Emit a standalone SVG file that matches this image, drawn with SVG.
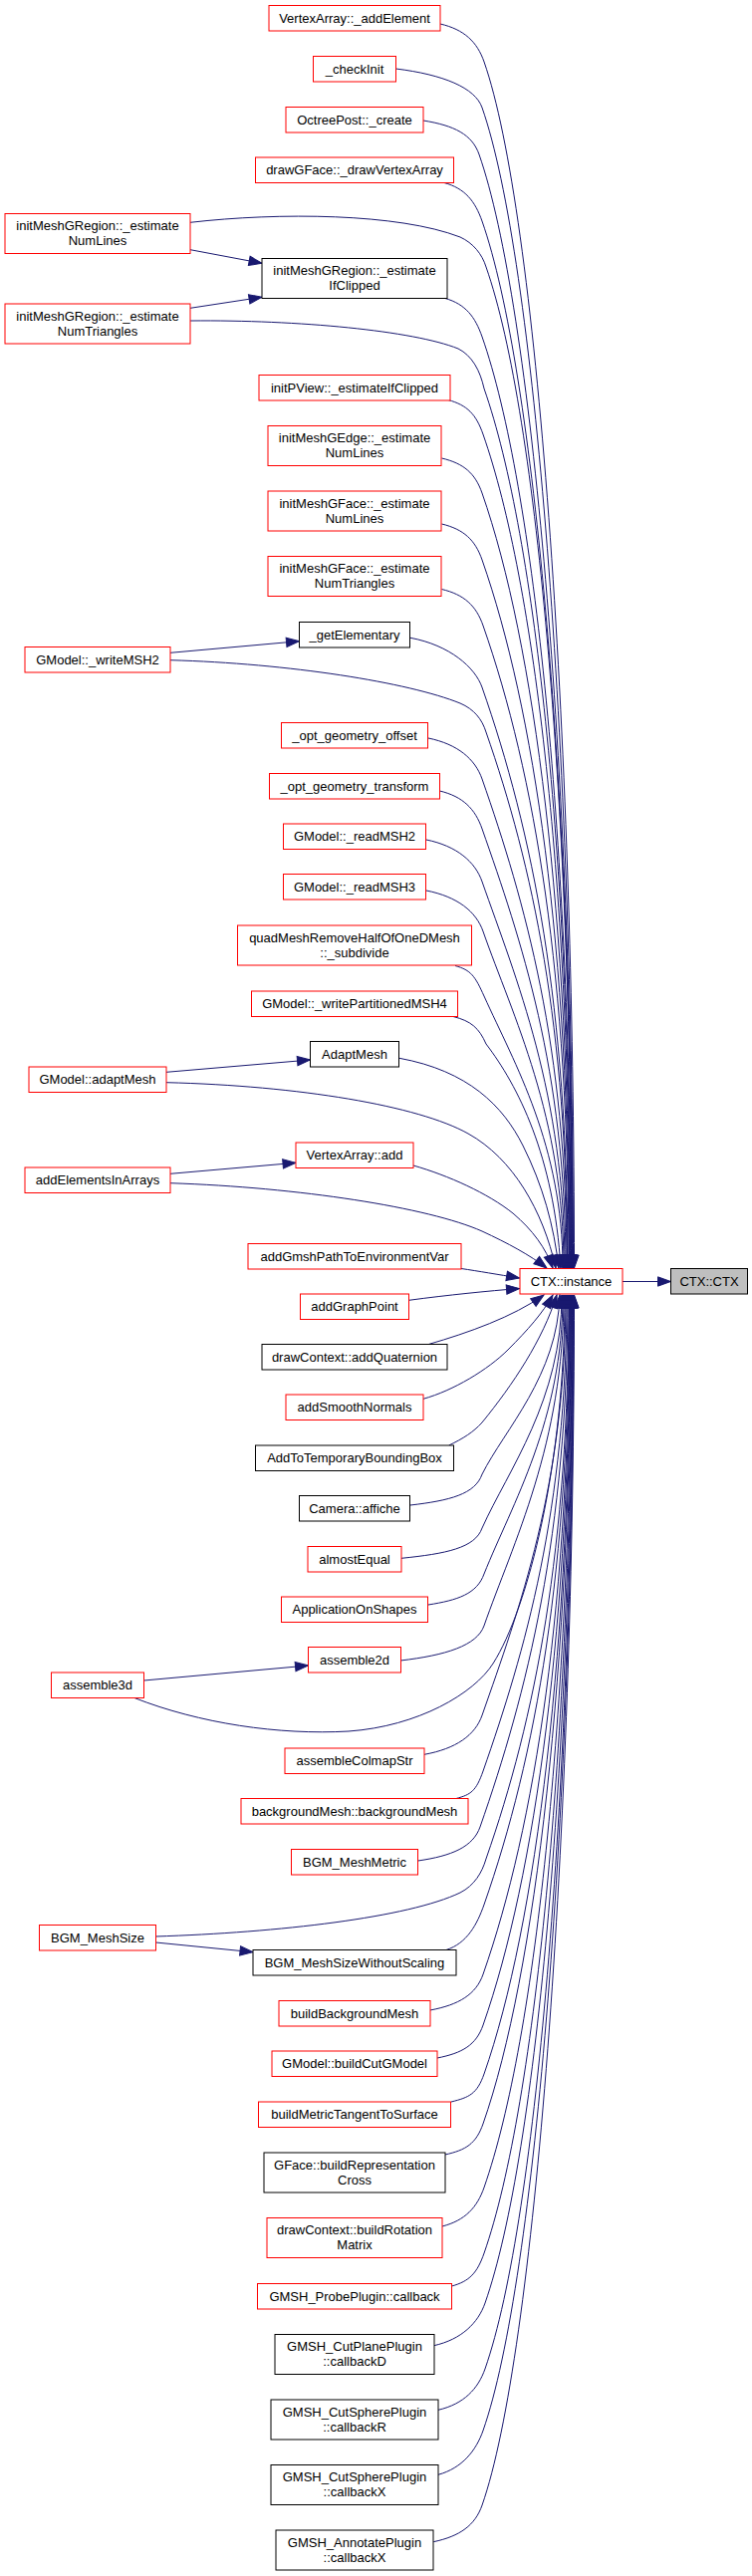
<svg xmlns="http://www.w3.org/2000/svg" width="755" height="2586" viewBox="0 0 755 2586">
<style>
.node rect{fill:#ffffff;stroke-width:1}
.red rect{stroke:#ff0000}
.blk rect{stroke:#000000}
.cur rect{fill:#bfbfbf;stroke:#000000}
text{font-family:"Liberation Sans",Arial,Helvetica,sans-serif;font-size:13px;text-anchor:middle;fill:#000000}
.edges path{fill:none;stroke:#191970;stroke-width:1;marker-end:url(#ah)}
</style>
<defs>
<marker id="ah" markerUnits="userSpaceOnUse" markerWidth="14" markerHeight="10" refX="13" refY="4.67" orient="auto" overflow="visible">
<path d="M0,0 L13,4.67 L0,9.33 z" fill="#191970" stroke="#191970" stroke-width="1"/>
</marker>
</defs>
<rect x="0" y="0" width="755" height="2586" fill="#ffffff"/>
<g id="edges" class="edges">
<path d="M442,24 C466.2,29.7 479,42 486,62 C538.5,212 576.5,728 576.5,1273"/>
<path d="M397.5,69 C445,74.9 477,88 484,108 C536.5,258 575.5,749 575.5,1273"/>
<path d="M425,121 C456.4,126.1 474,135 481,155 C533.5,305 575,770 575,1273"/>
<path d="M446,183.5 C466.9,189.1 477,202 484,222 C536.5,372 574.5,800 574.5,1273"/>
<path d="M191,223.3 C280,213 400,214 462,238 C475,244 484,255 488,268 C540.5,418 574,821 574,1273"/>
<path d="M447,299.5 C467.4,305.4 477,318 484,338 C536.5,488 573.5,852 573.5,1273"/>
<path d="M191,322 C300,321 415,332 460,350 C474,357 482,372 486,390 C538.5,540 573,876 573,1273"/>
<path d="M450,401.5 C469.3,406.8 478,416 485,436 C537.5,586 572.5,896 572.5,1273"/>
<path d="M443.5,460 C465.7,465.3 477,475 484,495 C536.5,645 572,923 572,1273"/>
<path d="M443.5,526 C465.7,531.4 477,542 484,562 C536.5,712 571.5,953 571.5,1273"/>
<path d="M443.5,591.5 C466.2,597 478,608 485,628 C537.5,778 571,983 571,1273"/>
<path d="M412,640.3 C451.6,647.7 477,670 484,690 C535,835.75 570,1010.7 570,1273"/>
<path d="M171,662.7 C290,666 410,685 462,706 C476,712 484,722 488,735 C535,869.5 569.5,1031 569.5,1273"/>
<path d="M430,741 C459.6,747.1 477,762 484,782 C527,905 569,1052 569,1273"/>
<path d="M441.5,794 C464.9,799.7 477,812 484,832 C522.6,942 568,1074.6 568,1273"/>
<path d="M428,843 C458.7,849.3 477,865 484,885 C518,982 567,1098.4 567,1273"/>
<path d="M428,894 C459.3,900.2 478,915 485,935 C514.6,1019.5 566,1121 566,1273"/>
<path d="M457,969.5 C473,973.9 477,980 486,1000 C516.7,1068 565,1150 565,1273"/>
<path d="M455,1020.5 C473,1025 481,1032 488,1048 C520,1090 556,1160 563,1273"/>
<path d="M401,1062.3 C470,1075 505,1110 525,1150 C545,1190 556,1230 561,1273"/>
<path d="M167,1086.7 C300,1090 420,1110 470,1138 C515,1163 545,1215 558,1273"/>
<path d="M415,1170 C450,1180 490,1198 515,1218 C535,1235 548,1253 555,1273"/>
<path d="M171,1187.7 C300,1192 430,1212 484,1236 C510,1248 532,1260 549,1273"/>
<path d="M463,1273.5 C480,1276 500,1279.5 521.5,1283"/>
<path d="M410.5,1305.3 C450,1300 490,1296 521.5,1293.5"/>
<path d="M430.3,1349.5 C470,1338 515,1322 546,1300"/>
<path d="M425,1404.3 C455,1396 490,1375 510,1355 C530,1335 545,1318 555,1300"/>
<path d="M450.7,1451 C465,1444 475,1438 484,1428 C515,1390 545,1345 559,1300"/>
<path d="M412,1511 C451.6,1506.4 477,1500 484,1480 C506.5,1435 560,1381 562,1300"/>
<path d="M403,1564.3 C447.6,1559.8 477,1554 484,1534 C510.3,1475.5 564,1405.3 564,1300"/>
<path d="M430,1611 C459.5,1606.4 479,1600 486,1580 C514,1510 565,1426 565,1300"/>
<path d="M402,1667 C447.2,1661.8 479,1652 486,1632 C515,1549 566,1449.4 566,1300"/>
<path d="M135,1704.5 C200,1730 280,1742 350,1738 C420,1733 476,1700 495,1670 C530,1615 567,1470 567,1300"/>
<path d="M426,1761.3 C457.9,1755.5 477,1742 484,1722 C520.9,1616.5 568,1490 568,1300"/>
<path d="M458,1805.5 C472.9,1801.5 478,1798 485,1778 C526.8,1658.5 569,1515 569,1300"/>
<path d="M419.7,1868 C454,1863 475,1854 482,1834 C528.7,1700.5 570,1540.3 570,1300"/>
<path d="M156,1944 C280,1940 410,1925 462,1900 C476,1893 484,1880 488,1866 C537.5,1724.5 571,1555 571,1300"/>
<path d="M448,1957.5 C468.9,1950.8 479,1932 486,1912 C538.5,1762 571.5,1575.4 571.5,1300"/>
<path d="M431.8,2018 C461,2012.6 478,2002 485,1982 C537.5,1832 572,1607 572,1300"/>
<path d="M439,2066 C464.3,2061 478,2053 485,2033 C537.5,1883 572.5,1630 572.5,1300"/>
<path d="M453,2110 C471.2,2105.5 479,2102 486,2082 C538.5,1932 573,1652 573,1300"/>
<path d="M446.8,2163 C467.9,2158.4 478,2152 485,2132 C537.5,1982 573.5,1674.4 573.5,1300"/>
<path d="M444,2235 C467.1,2229 479,2216 486,2196 C538.5,2046 574,1703.2 574,1300"/>
<path d="M453.6,2295 C471.4,2290 479,2282 486,2262 C538.5,2112 574.5,1733 574.5,1300"/>
<path d="M435.7,2354.7 C463.4,2348.5 480,2332 487,2312 C539.5,2162 575,1755.4 575,1300"/>
<path d="M440,2419.3 C465.9,2413.3 480,2398 487,2378 C539.5,2228 575.5,1785 575.5,1300"/>
<path d="M440,2484.3 C464.2,2477.6 478,2460 485,2440 C537.5,2290 576,1813 576,1300"/>
<path d="M435.2,2551.7 C462,2546 477,2535 484,2515 C536.5,2365 576.5,1847 576.5,1300"/>
<path d="M191,250.7 L263,264.3"/>
<path d="M191,309.3 L263,298.3"/>
<path d="M171,655.3 L300.5,643.7"/>
<path d="M167,1076.3 L311.5,1064"/>
<path d="M171,1178.3 L297,1167.3"/>
<path d="M144.5,1687 L309.5,1672"/>
<path d="M156.5,1950 L254,1959.7"/>
<path d="M625,1286.5 L673.5,1286.5"/>
</g>
<g id="n1" class="node red"><rect x="270" y="5.5" width="172" height="25.5"/><text x="356" y="22.5">VertexArray::_addElement</text></g>
<g id="n2" class="node red"><rect x="314.5" y="56.5" width="83" height="25.5"/><text x="356" y="73.5">_checkInit</text></g>
<g id="n3" class="node red"><rect x="287" y="107.5" width="138" height="25.5"/><text x="356" y="124.5">OctreePost::_create</text></g>
<g id="n4" class="node red"><rect x="256.5" y="158" width="199" height="25.5"/><text x="356" y="175">drawGFace::_drawVertexArray</text></g>
<g id="l1" class="node red"><rect x="5" y="214.5" width="186" height="40"/><text x="98" y="231">initMeshGRegion::_estimate</text><text x="98" y="246">NumLines</text></g>
<g id="n5" class="node blk"><rect x="263" y="259.5" width="186" height="40"/><text x="356" y="276">initMeshGRegion::_estimate</text><text x="356" y="291">IfClipped</text></g>
<g id="l2" class="node red"><rect x="5" y="305" width="186" height="40"/><text x="98" y="321.5">initMeshGRegion::_estimate</text><text x="98" y="336.5">NumTriangles</text></g>
<g id="n6" class="node red"><rect x="260" y="376.5" width="192" height="25.5"/><text x="356" y="393.5">initPView::_estimateIfClipped</text></g>
<g id="n7" class="node red"><rect x="269" y="427.5" width="174" height="40"/><text x="356" y="444">initMeshGEdge::_estimate</text><text x="356" y="459">NumLines</text></g>
<g id="n8" class="node red"><rect x="269" y="493" width="174" height="40"/><text x="356" y="509.5">initMeshGFace::_estimate</text><text x="356" y="524.5">NumLines</text></g>
<g id="n9" class="node red"><rect x="269" y="558.5" width="174" height="40"/><text x="356" y="575">initMeshGFace::_estimate</text><text x="356" y="590">NumTriangles</text></g>
<g id="n10" class="node blk"><rect x="300.5" y="624.5" width="111" height="25.5"/><text x="356" y="641.5">_getElementary</text></g>
<g id="l3" class="node red"><rect x="25" y="649.5" width="146" height="25.5"/><text x="98" y="666.5">GModel::_writeMSH2</text></g>
<g id="n11" class="node red"><rect x="282.5" y="725.5" width="147" height="25.5"/><text x="356" y="742.5">_opt_geometry_offset</text></g>
<g id="n12" class="node red"><rect x="270.5" y="776.5" width="171" height="25.5"/><text x="356" y="793.5">_opt_geometry_transform</text></g>
<g id="n13" class="node red"><rect x="284.5" y="827" width="143" height="25.5"/><text x="356" y="844">GModel::_readMSH2</text></g>
<g id="n14" class="node red"><rect x="284.5" y="877.5" width="143" height="25.5"/><text x="356" y="894.5">GModel::_readMSH3</text></g>
<g id="n15" class="node red"><rect x="238.5" y="929" width="235" height="40"/><text x="356" y="945.5">quadMeshRemoveHalfOfOneDMesh</text><text x="356" y="960.5">::_subdivide</text></g>
<g id="n16" class="node red"><rect x="252.5" y="995" width="207" height="25.5"/><text x="356" y="1012">GModel::_writePartitionedMSH4</text></g>
<g id="n17" class="node blk"><rect x="311.5" y="1045.5" width="89" height="25.5"/><text x="356" y="1062.5">AdaptMesh</text></g>
<g id="l4" class="node red"><rect x="29" y="1071" width="138" height="25.5"/><text x="98" y="1088">GModel::adaptMesh</text></g>
<g id="n18" class="node red"><rect x="297" y="1147" width="118" height="25.5"/><text x="356" y="1164">VertexArray::add</text></g>
<g id="l5" class="node red"><rect x="25" y="1172" width="146" height="25.5"/><text x="98" y="1189">addElementsInArrays</text></g>
<g id="n19" class="node red"><rect x="249" y="1248.5" width="214" height="25.5"/><text x="356" y="1265.5">addGmshPathToEnvironmentVar</text></g>
<g id="ctx_instance" class="node red"><rect x="522" y="1273.5" width="103" height="25.5"/><text x="573.5" y="1290.5">CTX::instance</text></g>
<g id="ctx_ctx" class="node cur"><rect x="673.5" y="1273.5" width="77" height="25.5"/><text x="712" y="1290.5">CTX::CTX</text></g>
<g id="n20" class="node red"><rect x="301.5" y="1299" width="109" height="25.5"/><text x="356" y="1316">addGraphPoint</text></g>
<g id="n21" class="node blk"><rect x="263" y="1349.5" width="186" height="25.5"/><text x="356" y="1366.5">drawContext::addQuaternion</text></g>
<g id="n22" class="node red"><rect x="287" y="1400" width="138" height="25.5"/><text x="356" y="1417">addSmoothNormals</text></g>
<g id="n23" class="node blk"><rect x="256.5" y="1451" width="199" height="25.5"/><text x="356" y="1468">AddToTemporaryBoundingBox</text></g>
<g id="n24" class="node blk"><rect x="300.5" y="1501.5" width="111" height="25.5"/><text x="356" y="1518.5">Camera::affiche</text></g>
<g id="n25" class="node red"><rect x="309" y="1552.5" width="94" height="25.5"/><text x="356" y="1569.5">almostEqual</text></g>
<g id="n26" class="node red"><rect x="282.5" y="1603" width="147" height="25.5"/><text x="356" y="1620">ApplicationOnShapes</text></g>
<g id="n27" class="node red"><rect x="309.5" y="1653.5" width="93" height="25.5"/><text x="356" y="1670.5">assemble2d</text></g>
<g id="l6" class="node red"><rect x="51.5" y="1679" width="93" height="25.5"/><text x="98" y="1696">assemble3d</text></g>
<g id="n28" class="node red"><rect x="286" y="1755" width="140" height="25.5"/><text x="356" y="1772">assembleColmapStr</text></g>
<g id="n29" class="node red"><rect x="242" y="1805.5" width="228" height="25.5"/><text x="356" y="1822.5">backgroundMesh::backgroundMesh</text></g>
<g id="n30" class="node red"><rect x="292.5" y="1856.5" width="127" height="25.5"/><text x="356" y="1873.5">BGM_MeshMetric</text></g>
<g id="l7" class="node red"><rect x="39.5" y="1932.5" width="117" height="25.5"/><text x="98" y="1949.5">BGM_MeshSize</text></g>
<g id="n31" class="node blk"><rect x="254" y="1957.5" width="204" height="25.5"/><text x="356" y="1974.5">BGM_MeshSizeWithoutScaling</text></g>
<g id="n32" class="node red"><rect x="280" y="2008.5" width="152" height="25.5"/><text x="356" y="2025.5">buildBackgroundMesh</text></g>
<g id="n33" class="node red"><rect x="273" y="2059" width="166" height="25.5"/><text x="356" y="2076">GModel::buildCutGModel</text></g>
<g id="n34" class="node red"><rect x="259.5" y="2110" width="193" height="25.5"/><text x="356" y="2127">buildMetricTangentToSurface</text></g>
<g id="n35" class="node blk"><rect x="265" y="2161" width="182" height="40"/><text x="356" y="2177.5">GFace::buildRepresentation</text><text x="356" y="2192.5">Cross</text></g>
<g id="n36" class="node red"><rect x="268" y="2226.5" width="176" height="40"/><text x="356" y="2243">drawContext::buildRotation</text><text x="356" y="2258">Matrix</text></g>
<g id="n37" class="node red"><rect x="258.5" y="2292.5" width="195" height="25.5"/><text x="356" y="2309.5">GMSH_ProbePlugin::callback</text></g>
<g id="n38" class="node blk"><rect x="276" y="2343.5" width="160" height="40"/><text x="356" y="2360">GMSH_CutPlanePlugin</text><text x="356" y="2375">::callbackD</text></g>
<g id="n39" class="node blk"><rect x="272" y="2409" width="168" height="40"/><text x="356" y="2425.5">GMSH_CutSpherePlugin</text><text x="356" y="2440.5">::callbackR</text></g>
<g id="n40" class="node blk"><rect x="272" y="2474.5" width="168" height="40"/><text x="356" y="2491">GMSH_CutSpherePlugin</text><text x="356" y="2506">::callbackX</text></g>
<g id="n41" class="node blk"><rect x="277" y="2540" width="158" height="40"/><text x="356" y="2556.5">GMSH_AnnotatePlugin</text><text x="356" y="2571.5">::callbackX</text></g>
</svg>
